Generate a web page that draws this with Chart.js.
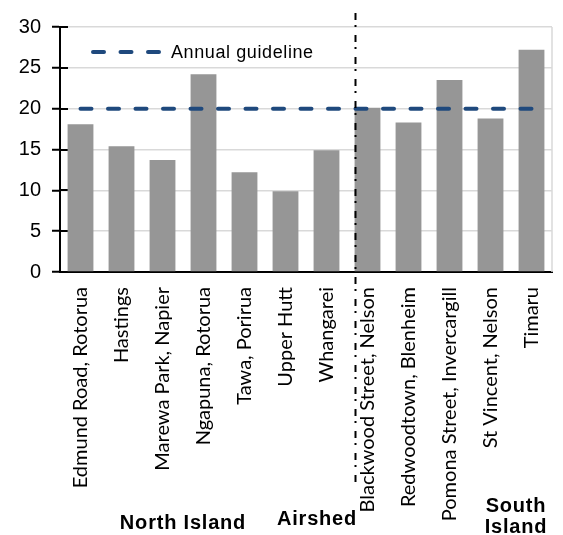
<!DOCTYPE html>
<html>
<head>
<meta charset="utf-8">
<script src="https://cdn.jsdelivr.net/npm/chart.js@4"></script>
<style>
html,body{margin:0;padding:0;background:#fff;}
#wrap{width:563px;height:535px;}
</style>
</head>
<body>
<div id="wrap"><canvas id="c" width="563" height="535"></canvas></div>
<script>
const categories = ["Edmund Road, Rotorua","Hastings","Marewa Park, Napier","Ngapuna, Rotorua","Tawa, Porirua","Upper Hutt","Whangarei","Blackwood Street, Nelson","Redwoodtown, Blenheim","Pomona Street, Invercargill","St Vincent, Nelson","Timaru"];
const annualMeans = [18.1, 15.4, 13.7, 24.2, 12.2, 9.9, 14.9, 20.1, 18.3, 23.5, 18.8, 27.2];
const guideline = [20, 20, 20, 20, 20, 20, 20, 20, 20, 20, 20, 20];
const yTicks = [0, 5, 10, 15, 20, 25, 30];
const groupLabels = ["North Island", "Airshed", "South", "Island"];
const legendLabel = "Annual guideline";

const overlay = {
  id: 'overlay',
  beforeDatasetsDraw(chart) {
    const ctx = chart.ctx, a = chart.chartArea, y = chart.scales.y;
    ctx.save();
    ctx.strokeStyle = '#d9d9d9';
    ctx.lineWidth = 1.5;
    ctx.beginPath();
    ctx.moveTo(a.right, a.top);
    ctx.lineTo(a.right, a.bottom);
    ctx.stroke();
    // inner half of cross tick marks
    ctx.strokeStyle = '#000';
    ctx.lineWidth = 2;
    ctx.beginPath();
    yTicks.forEach(v => {
      const py = Math.round(y.getPixelForValue(v));
      ctx.moveTo(a.left, py);
      ctx.lineTo(a.left + 8, py);
    });
    ctx.stroke();
    ctx.restore();
  },
  afterDraw(chart) {
    const ctx = chart.ctx;
    const bar = chart.getDatasetMeta(1).data[7];
    const vx = Math.round(bar.x - bar.width / 2) + 0.5;
    ctx.save();
    // divider
    ctx.strokeStyle = '#000';
    ctx.lineWidth = 2;
    ctx.setLineDash([7, 5, 2, 8]);
    ctx.beginPath();
    ctx.moveTo(vx, 13);
    ctx.lineTo(vx, 486);
    ctx.stroke();
    // legend
    ctx.setLineDash([11, 16.5]);
    ctx.lineCap = 'round';
    ctx.strokeStyle = '#1F497D';
    ctx.lineWidth = 4;
    ctx.beginPath();
    ctx.moveTo(93, 52);
    ctx.lineTo(160, 52);
    ctx.stroke();
    ctx.setLineDash([]);
    ctx.fillStyle = '#000';
    ctx.font = '18px "Liberation Sans", Arial, sans-serif';
    if ('letterSpacing' in ctx) ctx.letterSpacing = '0.6px';
    ctx.textAlign = 'left';
    ctx.textBaseline = 'alphabetic';
    ctx.fillText(legendLabel, 171, 58);
    // group labels
    ctx.font = 'bold 20px "Liberation Sans", Arial, sans-serif';
    if ('letterSpacing' in ctx) ctx.letterSpacing = '0.8px';
    ctx.textAlign = 'center';
    ctx.fillText(groupLabels[0], 183, 529);
    ctx.fillText(groupLabels[1], 317, 525);
    ctx.fillText(groupLabels[2], 516, 512);
    ctx.fillText(groupLabels[3], 516, 533);
    if ('letterSpacing' in ctx) ctx.letterSpacing = '0px';
    ctx.restore();
  }
};

new Chart(document.getElementById('c'), {
  type: 'bar',
  data: {
    labels: categories,
    datasets: [
      {
        type: 'line',
        label: legendLabel,
        data: guideline,
        borderColor: '#1F497D',
        borderWidth: 4,
        borderDash: [11, 16.5],
        borderCapStyle: 'round',
        pointRadius: 0,
        fill: false,
        order: 0
      },
      {
        label: 'Annual mean',
        data: annualMeans,
        backgroundColor: '#969696',
        categoryPercentage: 1,
        barPercentage: 0.63,
        order: 1
      }
    ]
  },
  options: {
    responsive: false,
    animation: false,
    devicePixelRatio: 1,
    layout: { padding: { top: 27, right: 11, left: 0, bottom: 0 } },
    plugins: { legend: { display: false }, tooltip: { enabled: false } },
    scales: {
      x: {
        grid: { display: false, drawTicks: false },
        border: { color: '#000', width: 2 },
        ticks: {
          autoSkip: false,
          minRotation: 90,
          maxRotation: 90,
          padding: 15,
          color: '#000',
          font: { family: 'Lato', size: 20 }
        },
        afterFit(s) { s.height = 263; s.paddingLeft = 0; s.paddingRight = 0; }
      },
      y: {
        min: 0,
        max: 30,
        afterBuildTicks(s) { s.ticks = yTicks.map(v => ({ value: v })); },
        grid: { color: '#d9d9d9', lineWidth: 1.5, tickColor: '#000', tickLength: 8, tickWidth: 2 },
        border: { color: '#000', width: 2 },
        ticks: {
          padding: 11,
          color: '#000',
          font: { family: '"Liberation Sans", Arial, sans-serif', size: 20 }
        },
        afterFit(s) { s.width = 60; s.paddingTop = 0; s.paddingBottom = 0; }
      }
    }
  },
  plugins: [overlay]
});
</script>
</body>
</html>
